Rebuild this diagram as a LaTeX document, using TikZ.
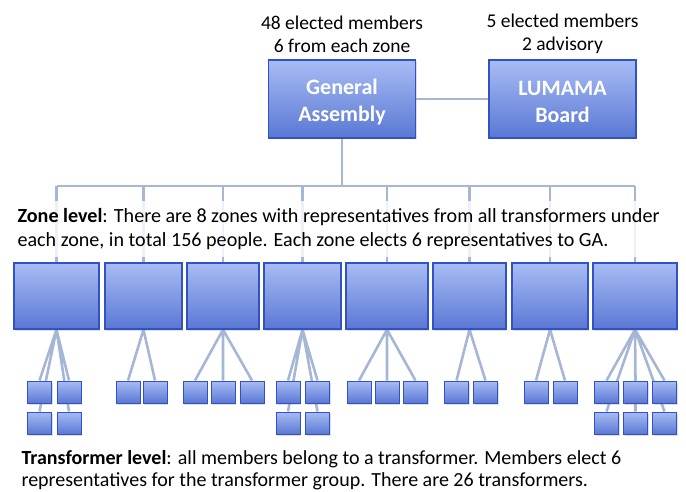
\documentclass[tikz,border=0pt]{standalone}
\usepackage{fontspec}
\setmainfont{Carlito}
\usetikzlibrary{backgrounds,shadows}

\definecolor{boxtop}{RGB}{168,188,244}
\definecolor{boxbot}{RGB}{90,120,212}
\definecolor{boxedge}{RGB}{50,82,196}
\definecolor{linkc}{RGB}{166,183,214}

\tikzset{
  unit/.style={draw=boxedge, line width=1.2pt, top color=boxtop, bottom color=boxbot,
    drop shadow={opacity=0.25, shadow xshift=1pt, shadow yshift=-1.5pt}},
  headbox/.style={unit, minimum width=147pt, minimum height=78pt},
  headtext/.style={text=white, font=\fontsize{22}{27.5}\selectfont\bfseries, align=center},
  zone/.style={unit, minimum height=66pt},
  trafo/.style={unit, minimum width=24pt, minimum height=22pt, line width=1pt},
  link/.style={draw=linkc, line width=2.6pt},
  note/.style={font=\fontsize{19.5}{23}\selectfont, align=center},
  info/.style={font=\fontsize{20.1}{24}\selectfont, align=left, anchor=west},
}

\begin{document}
\begin{tikzpicture}[x=1pt,y=-1pt]
\useasboundingbox (0,0) rectangle (686,492);

% top level
\node[headbox] (ga) at (342,99) {};
\node[headbox] (board) at (562.5,99) {};
\node[headtext] (gatext) at ([yshift=-3pt]ga.center) {General\\Assembly};
\node[headtext] (boardtext) at ([yshift=-3pt]board.center) {LUMAMA\\Board};
\node[note] (ganote) at (342,34) {48 elected members\\6 from each zone};
\node[note] (boardnote) at (562.5,34) {5 elected members\\2 advisory};

% zones
\node[zone, minimum width=85pt] (z1) at (56.5,296) {};
\node[zone, minimum width=77pt] (z2) at (143.5,296) {};
\node[zone, minimum width=72pt] (z3) at (223,296) {};
\node[zone, minimum width=77pt] (z4) at (302.5,296) {};
\node[zone, minimum width=82pt] (z5) at (387,296) {};
\node[zone, minimum width=73pt] (z6) at (469.5,296) {};
\node[zone, minimum width=76pt] (z7) at (550,296) {};
\node[zone, minimum width=84pt] (z8) at (635,296) {};

\node[info, fill=white, fill opacity=0.8, text opacity=1, inner ysep=7pt] (zonetext) at (14,229)
  {\textbf{Zone level}: There are 8 zones with representatives from all transformers under\\
   each zone, in total 156 people. Each zone elects 6 representatives to GA.};

% transformers
\node[trafo] (t1a) at (39.5,392) {};
\node[trafo] (t1b) at (69,392) {};
\node[trafo] (t1c) at (39.5,423) {};
\node[trafo] (t1d) at (69,423) {};
\node[trafo] (t2a) at (128,392) {};
\node[trafo] (t2b) at (155,392) {};
\node[trafo] (t3a) at (195,392) {};
\node[trafo] (t3b) at (223,392) {};
\node[trafo] (t3c) at (252,392) {};
\node[trafo] (t4a) at (288,392) {};
\node[trafo] (t4b) at (317.5,392) {};
\node[trafo] (t4c) at (288,423) {};
\node[trafo] (t4d) at (317.5,423) {};
\node[trafo] (t5a) at (359,392) {};
\node[trafo] (t5b) at (387,392) {};
\node[trafo] (t5c) at (415.5,392) {};
\node[trafo] (t6a) at (456.5,392) {};
\node[trafo] (t6b) at (485.5,392) {};
\node[trafo] (t7a) at (536,392) {};
\node[trafo] (t7b) at (565,392) {};
\node[trafo] (t8a) at (606.5,392) {};
\node[trafo] (t8b) at (635.5,392) {};
\node[trafo] (t8c) at (664.5,392) {};
\node[trafo] (t8d) at (606.5,423) {};
\node[trafo] (t8e) at (635.5,423) {};
\node[trafo] (t8f) at (664.5,423) {};

\node[info, font=\fontsize{20}{22}\selectfont] (trafotext) at (18,470)
  {\textbf{Transformer level}: all members belong to a transformer. Members elect 6\\
   representatives for the transformer group. There are 26 transformers.};

% connectors behind the boxes
\begin{scope}[on background layer]
\coordinate (bus) at (342,186);
\draw[link] (ga) -- (board);
\draw[link] (ga.south) -- (bus);
\draw[link] (z1.north |- bus) -- (z8.north |- bus);
\draw[link] (z1.north) -- (z1.north |- bus);
\draw[link] (z2.north) -- (z2.north |- bus);
\draw[link] (z3.north) -- (z3.north |- bus);
\draw[link] (z4.north) -- (z4.north |- bus);
\draw[link] (z5.north) -- (z5.north |- bus);
\draw[link] (z6.north) -- (z6.north |- bus);
\draw[link] (z7.north) -- (z7.north |- bus);
\draw[link] (z8.north) -- (z8.north |- bus);
% zone to transformers
\draw[link] (z1.south) -- (t1a.north) (z1.south) -- (t1b.north)
  (z1.south) -- (t1c.north) (z1.south) -- (t1d.north);
\draw[link] (z2.south) -- (t2a.north) (z2.south) -- (t2b.north);
\draw[link] (z3.south) -- (t3a.north) (z3.south) -- (t3b.north) (z3.south) -- (t3c.north);
\draw[link] (z4.south) -- (t4a.north) (z4.south) -- (t4b.north)
  (z4.south) -- (t4c.north) (z4.south) -- (t4d.north);
\draw[link] (z5.south) -- (t5a.north) (z5.south) -- (t5b.north) (z5.south) -- (t5c.north);
\draw[link] (z6.south) -- (t6a.north) (z6.south) -- (t6b.north);
\draw[link] (z7.south) -- (t7a.north) (z7.south) -- (t7b.north);
\draw[link] (z8.south) -- (t8a.north) (z8.south) -- (t8b.north) (z8.south) -- (t8c.north)
  (z8.south) -- (t8d.north) (z8.south) -- (t8e.north) (z8.south) -- (t8f.north);
\end{scope}

\end{tikzpicture}
\end{document}
